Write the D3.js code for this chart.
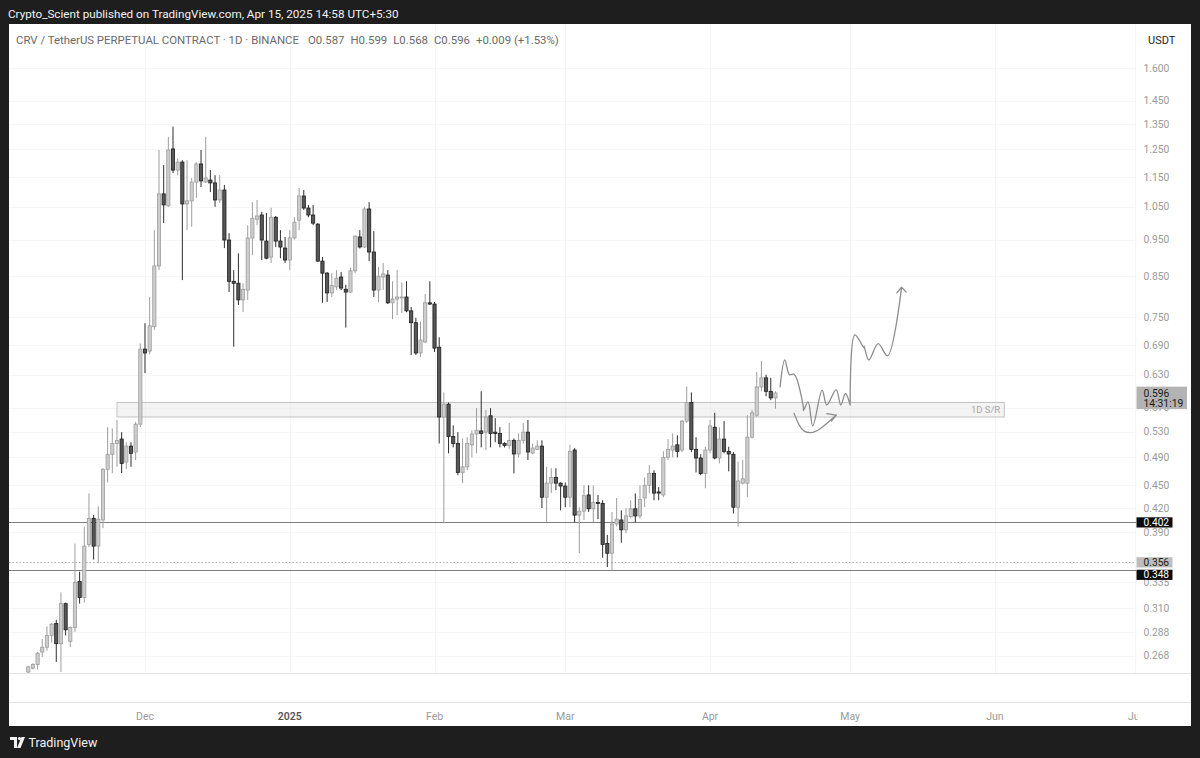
<!DOCTYPE html>
<html>
<head>
<meta charset="utf-8">
<script src="https://cdn.jsdelivr.net/npm/d3@7"></script>
<style>
  html, body { margin: 0; padding: 0; background: #1e1e1e; }
  svg { display: block; }
  text { font-family: Roboto, "Noto Sans", "DejaVu Sans", sans-serif; }
</style>
</head>
<body>
<svg id="chart" width="1200" height="758"></svg>
<script>
// ---------------- DATA ----------------
const startDate = [2024, 10, 6]; // first daily candle: 6 Nov 2024 (UTC)
const opens = [0.255,0.258,0.261,0.271,0.275,0.285,0.2955,0.278,0.314,0.280,
  0.292,0.336,0.320,0.376,0.407,0.374,0.405,0.4725,0.4945,0.511,
  0.518,0.483,0.507,0.498,0.542,0.681,0.677,0.729,0.877,1.092,
  1.053,1.252,1.174,1.203,1.059,1.069,1.132,1.196,1.132,1.139,
  1.129,1.072,1.105,0.949,0.837,0.832,0.791,0.815,0.955,1.011,
  1.024,0.946,0.901,1.017,0.946,0.926,0.893,0.955,1.008,1.085,
  1.046,1.024,0.996,0.890,0.858,0.808,0.823,0.848,0.817,0.810,
  0.864,0.958,0.929,1.043,0.915,0.815,0.848,0.853,0.784,0.793,
  0.796,0.798,0.765,0.738,0.673,0.696,0.784,0.781,0.685,0.554,
  0.576,0.522,0.511,0.468,0.476,0.509,0.526,0.531,0.529,0.556,
  0.529,0.527,0.511,0.508,0.516,0.495,0.516,0.529,0.4965,0.502,
  0.507,0.434,0.453,0.461,0.453,0.449,0.434,0.501,0.411,0.416,
  0.437,0.419,0.427,0.426,0.377,0.366,0.400,0.405,0.393,0.409,
  0.419,0.410,0.433,0.450,0.4665,0.441,0.437,0.490,0.501,0.509,
  0.501,0.547,0.579,0.502,0.489,0.4665,0.501,0.537,0.489,0.518,
  0.499,0.4945,0.421,0.453,0.453,0.521,0.557,0.607,0.624,0.599,
  0.587];
const highs = [0.260,0.262,0.271,0.282,0.293,0.296,0.299,0.325,0.315,0.293,
  0.377,0.346,0.397,0.439,0.411,0.422,0.474,0.537,0.535,0.549,
  0.529,0.513,0.513,0.546,0.693,0.737,0.798,0.978,1.248,1.192,
  1.299,1.340,1.217,1.210,1.210,1.146,1.203,1.248,1.299,1.174,
  1.156,1.156,1.122,0.969,0.866,0.911,0.832,0.993,1.065,1.072,
  1.034,1.030,1.047,1.021,0.978,0.958,0.978,1.017,1.112,1.105,
  1.056,1.056,0.999,0.901,0.861,0.858,0.866,0.861,0.828,0.872,
  0.963,0.978,1.050,1.065,0.975,0.874,0.885,0.866,0.837,0.866,
  0.834,0.837,0.774,0.749,0.740,0.805,0.837,0.786,0.706,0.597,
  0.579,0.540,0.529,0.519,0.521,0.532,0.569,0.599,0.566,0.569,
  0.552,0.537,0.513,0.544,0.519,0.527,0.544,0.549,0.511,0.516,
  0.516,0.476,0.474,0.474,0.454,0.454,0.509,0.504,0.421,0.450,
  0.450,0.450,0.437,0.430,0.387,0.415,0.433,0.417,0.420,0.430,
  0.439,0.450,0.461,0.4785,0.471,0.4475,0.499,0.518,0.527,0.524,
  0.549,0.608,0.597,0.521,0.4945,0.506,0.549,0.561,0.537,0.547,
  0.506,0.498,0.484,0.486,0.557,0.566,0.635,0.657,0.630,0.624,
  0.599];
const lows = [0.254,0.257,0.257,0.267,0.272,0.279,0.263,0.255,0.285,0.275,
  0.288,0.314,0.315,0.373,0.359,0.355,0.395,0.454,0.467,0.476,
  0.467,0.473,0.476,0.486,0.537,0.633,0.670,0.722,0.866,0.999,
  1.050,1.163,1.156,0.840,0.978,0.988,1.079,1.115,1.129,1.098,
  1.050,1.062,0.926,0.810,0.686,0.779,0.762,0.791,0.906,0.993,
  0.893,0.895,0.885,0.929,0.898,0.885,0.866,0.950,0.978,1.040,
  1.017,0.993,0.888,0.784,0.786,0.798,0.815,0.815,0.727,0.808,
  0.858,0.925,0.926,0.890,0.798,0.786,0.815,0.781,0.746,0.755,
  0.760,0.762,0.669,0.669,0.665,0.694,0.779,0.675,0.511,0.401,
  0.496,0.505,0.464,0.453,0.471,0.490,0.496,0.505,0.501,0.505,
  0.513,0.505,0.505,0.503,0.4665,0.490,0.511,0.486,0.4945,0.501,
  0.420,0.402,0.4395,0.4435,0.417,0.421,0.421,0.402,0.366,0.405,
  0.415,0.402,0.406,0.361,0.351,0.347,0.397,0.378,0.389,0.407,
  0.402,0.407,0.421,0.4395,0.430,0.430,0.434,0.486,0.490,0.490,
  0.498,0.544,0.498,0.468,0.464,0.446,0.496,0.487,0.481,0.496,
  0.4695,0.413,0.397,0.451,0.434,0.519,0.554,0.599,0.590,0.583,
  0.568];
const closes = [0.259,0.261,0.270,0.275,0.285,0.295,0.278,0.314,0.290,0.292,
  0.335,0.320,0.374,0.407,0.374,0.406,0.4725,0.4945,0.511,0.516,
  0.481,0.507,0.496,0.542,0.681,0.673,0.731,0.877,1.092,1.056,
  1.248,1.174,1.203,1.059,1.069,1.132,1.196,1.136,1.146,1.129,
  1.072,1.105,0.949,0.837,0.832,0.791,0.817,0.955,1.014,1.021,
  0.949,0.898,1.017,0.946,0.929,0.893,0.955,1.002,1.085,1.046,
  1.024,0.999,0.890,0.858,0.808,0.826,0.845,0.820,0.810,0.864,
  0.960,0.929,1.043,0.915,0.815,0.850,0.856,0.784,0.793,0.798,
  0.798,0.765,0.738,0.673,0.700,0.784,0.781,0.683,0.554,0.576,
  0.522,0.511,0.468,0.476,0.511,0.526,0.532,0.527,0.554,0.527,
  0.527,0.511,0.508,0.516,0.495,0.516,0.529,0.498,0.504,0.507,
  0.434,0.453,0.461,0.453,0.449,0.434,0.499,0.411,0.416,0.436,
  0.419,0.427,0.426,0.376,0.366,0.400,0.406,0.393,0.410,0.419,
  0.410,0.431,0.450,0.4665,0.4395,0.4395,0.490,0.502,0.507,0.499,
  0.547,0.579,0.502,0.489,0.4665,0.501,0.539,0.489,0.518,0.499,
  0.495,0.421,0.456,0.459,0.521,0.561,0.607,0.624,0.599,0.587,
  0.596];

const priceTicks = [1.600,1.450,1.350,1.250,1.150,1.050,0.950,0.850,0.750,0.690,0.630,0.570,0.530,0.490,0.450,0.420,0.390,0.335,0.310,0.288,0.268];
const monthTicks = [["2024-12-01","Dec"],["2025-01-01","2025"],["2025-02-01","Feb"],["2025-03-01","Mar"],["2025-04-01","Apr"],["2025-05-01","May"],["2025-06-01","Jun"],["2025-07-01","Jul"]];

// horizontal levels drawn on the chart
const levelLines = [ {price:0.402, style:"solid"}, {price:0.348, style:"solid"}, {price:0.356, style:"dotted"} ];
// price scale badges: [price, label text, box style, box centre offset in px]
const axisBadges = [ [0.402,"0.402","dark",0], [0.356,"0.356","grey",0], [0.348,"0.348","dark",5] ];
const lastPrice = 0.596, countdown = "14:31:19";

// support / resistance zone (day offsets from start, price range)
const srZone = {fromDay:19, toDay:209, top:0.579, bottom:0.554, label:"1D S/R"};

// hand-drawn projection: [day offset, price]
const projPath = [[161.0,0.607],[162.9,0.659],[163.8,0.630],[164.7,0.631],[166.0,0.569],[166.9,0.565],[167.5,0.580],
  [168.8,0.539],[170.8,0.601],[171.5,0.5745],[173.2,0.602],[174.0,0.5745],[175.1,0.595],[176.1,0.5745],[176.7,0.5745],
  [177.1,0.711],[179.0,0.683],[179.5,0.687],[180.3,0.659],[182.4,0.6925],[184.5,0.667],[187.2,0.820]];
const projArrow = [[186.2,0.808],[187.2,0.822],[188.2,0.810]];
const arcPath = [[164.0,0.560],[165.2,0.5405],[166.9,0.529],[168.5,0.527],[170.6,0.536],[173.1,0.557]];
const arcArrow = [[171.4,0.5595],[173.1,0.557],[172.4,0.547]];

const legendText = "CRV / TetherUS PERPETUAL CONTRACT · 1D · BINANCE";
const legendValues = ["O0.587","H0.599","L0.568","C0.596","+0.009 (+1.53%)"];

// ---------------- LAYOUT ----------------
const W = 1200, H = 758;
const panel = {x:9, y:24, w:1182, h:702};
const plot = {left:9, right:1136, top:24, bottom:673};
const day = i => new Date(Date.UTC(startDate[0], startDate[1], startDate[2] + i));

const x = d3.scaleUtc().domain([day(0), day(237)]).range([28.25, 1135.0]);
const y = d3.scaleLog().domain([1.6, 0.268]).range([68.3, 655.7]);

const svg = d3.select("#chart");
svg.append("rect").attr("width", W).attr("height", H).attr("fill", "#1e1e1e");

// header
svg.append("text").attr("x", 8).attr("y", 18).attr("fill", "#f2f2f2")
  .attr("font-size", 11.7).text("Crypto_Scient published on TradingView.com, Apr 15, 2025 14:58 UTC+5:30");

// white panel
svg.append("rect").attr("x", panel.x).attr("y", panel.y).attr("width", panel.w).attr("height", panel.h).attr("fill", "#ffffff");

const defs = svg.append("defs");
defs.append("clipPath").attr("id", "plotclip").append("rect")
  .attr("x", plot.left).attr("y", plot.top).attr("width", plot.right - plot.left).attr("height", plot.bottom - plot.top);
defs.append("clipPath").attr("id", "timeclip").append("rect")
  .attr("x", plot.left).attr("y", 673).attr("width", 1137.5 - plot.left).attr("height", 53);

// grid
const grid = svg.append("g").attr("clip-path", "url(#plotclip)");
grid.selectAll("line.h").data(priceTicks).join("line")
  .attr("x1", plot.left).attr("x2", plot.right)
  .attr("y1", d => Math.round(y(d)) + 0.5).attr("y2", d => Math.round(y(d)) + 0.5)
  .attr("stroke", "#f6f6f6").attr("stroke-width", 1);
grid.selectAll("line.v").data(monthTicks).join("line")
  .attr("x1", d => Math.round(x(new Date(d[0]))) + 0.5).attr("x2", d => Math.round(x(new Date(d[0]))) + 0.5)
  .attr("y1", plot.top).attr("y2", plot.bottom)
  .attr("stroke", "#f6f6f6").attr("stroke-width", 1);

// pane separators
[673.5, 702.5].forEach(v => svg.append("line").attr("x1", panel.x).attr("x2", panel.x + panel.w)
  .attr("y1", v).attr("y2", v).attr("stroke", "#e3e3e3").attr("stroke-width", 1));

// legend
const leg = svg.append("text").attr("x", 16).attr("y", 44).attr("fill", "#6a6a6a").attr("font-size", 11.4);
leg.append("tspan").text(legendText);
legendValues.forEach((v, i) => leg.append("tspan").attr("dx", i === 0 ? 9 : 6).text(v));

// price axis labels
svg.append("text").attr("x", 1148).attr("y", 44).attr("fill", "#1c1c1c").attr("font-size", 11).text("USDT");
svg.selectAll("text.ptick").data(priceTicks).join("text").attr("class", "ptick")
  .attr("x", 1143.5).attr("y", d => y(d) + 3.7).attr("fill", "#9a9a9a").attr("font-size", 10.3)
  .text(d => d.toFixed(3));

// time axis labels
svg.append("g").attr("clip-path", "url(#timeclip)").selectAll("text").data(monthTicks).join("text")
  .attr("x", d => x(new Date(d[0]))).attr("y", 719.5).attr("text-anchor", "middle")
  .attr("fill", d => d[1] === "2025" ? "#555" : "#9a9a9a")
  .attr("font-weight", d => d[1] === "2025" ? 600 : 400)
  .attr("font-size", 10.5).text(d => d[1]);

const g = svg.append("g").attr("clip-path", "url(#plotclip)");

// S/R zone
g.append("rect").attr("x", x(day(srZone.fromDay))).attr("y", y(srZone.top))
  .attr("width", x(day(srZone.toDay)) - x(day(srZone.fromDay))).attr("height", y(srZone.bottom) - y(srZone.top))
  .attr("fill", "#e9e9e9").attr("fill-opacity", 0.55).attr("stroke", "#c2c2c2").attr("stroke-width", 1);
g.append("text").attr("x", x(day(srZone.toDay)) - 4).attr("y", (y(srZone.top) + y(srZone.bottom)) / 2 + 3.5)
  .attr("text-anchor", "end").attr("fill", "#a8a8a8").attr("font-size", 9.5).text(srZone.label);

// level lines
levelLines.forEach(l => {
  g.append("line").attr("x1", plot.left).attr("x2", plot.right)
    .attr("y1", Math.round(y(l.price)) + 0.5).attr("y2", Math.round(y(l.price)) + 0.5)
    .attr("stroke", l.style === "dotted" ? "#b0b0b0" : "#7d7d7d").attr("stroke-width", 1)
    .attr("stroke-dasharray", l.style === "dotted" ? "1.5,2" : null);
});

// candles
const candles = opens.map((o, i) => ({d: day(i), o, h: highs[i], l: lows[i], c: closes[i]}));
const bw = 3.2;
const cg = g.append("g");
cg.selectAll("line").data(candles).join("line")
  .attr("x1", d => x(d.d)).attr("x2", d => x(d.d))
  .attr("y1", d => y(d.h)).attr("y2", d => y(d.l))
  .attr("stroke", d => d.c >= d.o ? "#9d9d9d" : "#2e2e2e").attr("stroke-width", 1);
cg.selectAll("rect").data(candles).join("rect")
  .attr("x", d => x(d.d) - bw / 2).attr("width", bw)
  .attr("y", d => Math.min(y(d.o), y(d.c)))
  .attr("height", d => Math.max(1, Math.abs(y(d.o) - y(d.c))))
  .attr("fill", d => d.c >= d.o ? "#cdcdcd" : "#575757")
  .attr("stroke", d => d.c >= d.o ? "#9d9d9d" : "#1e1e1e").attr("stroke-width", 0.8);

// hand drawings
const lineGen = d3.line().x(p => x(day(p[0]))).y(p => y(p[1]));
const draw = g.append("g").attr("fill", "none").attr("stroke", "#8c8c8c").attr("stroke-width", 1.3)
  .attr("stroke-linecap", "round").attr("stroke-linejoin", "round");
draw.append("path").attr("d", lineGen.curve(d3.curveCatmullRom.alpha(0.5))(projPath));
draw.append("path").attr("d", d3.line().x(p => x(day(p[0]))).y(p => y(p[1]))(projArrow));
draw.append("path").attr("d", d3.line().x(p => x(day(p[0]))).y(p => y(p[1])).curve(d3.curveBasis)(arcPath));
draw.append("path").attr("d", d3.line().x(p => x(day(p[0]))).y(p => y(p[1]))(arcArrow));

// price-scale badges
axisBadges.forEach(([p, label, kind, off]) => {
  const cy = y(p) + off;
  svg.append("rect").attr("x", 1136.5).attr("y", cy - 5.1).attr("width", 36).attr("height", 10.2)
    .attr("fill", kind === "dark" ? "#0d0d0d" : "#bdbdbd");
  svg.append("text").attr("x", 1143.5).attr("y", cy + 3.6).attr("font-size", 10.2)
    .attr("fill", kind === "dark" ? "#ffffff" : "#1a1a1a").text(label);
});
// current price badge
const lp = y(lastPrice);
svg.append("rect").attr("x", 1136.5).attr("y", lp - 6.3).attr("width", 50.5).attr("height", 22.5).attr("fill", "#b3b3b3");
svg.append("text").attr("x", 1143.5).attr("y", lp + 3.6).attr("font-size", 10.3).attr("fill", "#1a1a1a").text(lastPrice.toFixed(3));
svg.append("text").attr("x", 1143.5).attr("y", lp + 14.2).attr("font-size", 10.3).attr("fill", "#1a1a1a").text(countdown);

// footer logo
const logo = svg.append("g").attr("fill", "#f2f2f2");
logo.append("path").attr("d", "M10,737 h7 v11 h-3 v-8 h-4 z");
logo.append("circle").attr("cx", 19.5).attr("cy", 738.6).attr("r", 1.6);
logo.append("path").attr("d", "M21.5,737 h3.5 l-4.5,11 h-3.5 z");
svg.append("text").attr("x", 28.5).attr("y", 747).attr("fill", "#f2f2f2").attr("font-size", 12.5)
  .attr("font-family", "'Liberation Sans Narrow', 'Roboto Condensed', Roboto, sans-serif").text("TradingView");
</script>
</body>
</html>
